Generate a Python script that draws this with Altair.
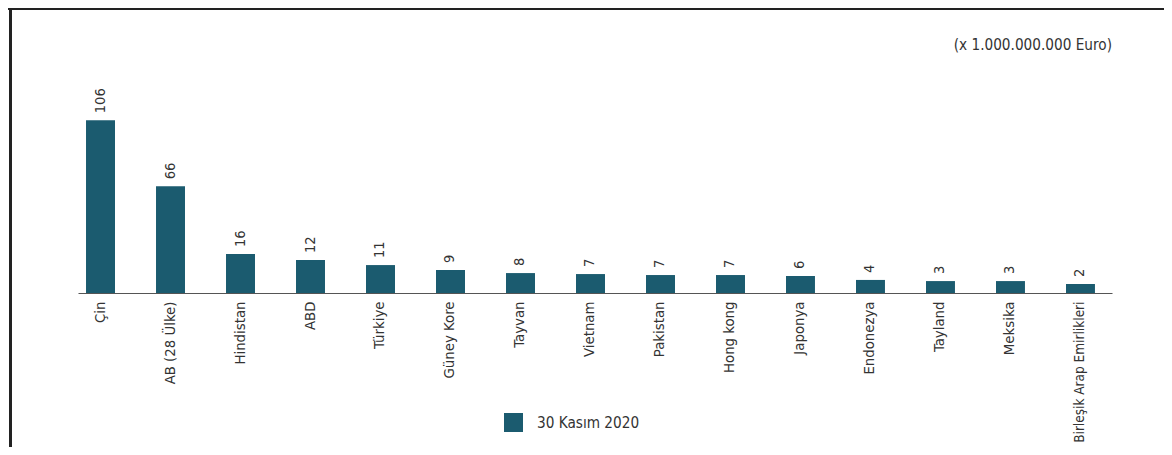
import altair as alt
import pandas as pd

countries = ["Çin", "AB (28 Ülke)", "Hindistan", "ABD", "Türkiye", "Güney Kore",
             "Tayvan", "Vietnam", "Pakistan", "Hong kong", "Japonya", "Endonezya",
             "Tayland", "Meksika", "Birleşik Arap Emirlikleri"]
# printed labels (x 1.000.000.000 Euro)
labels = [106, 66, 16, 12, 11, 9, 8, 7, 7, 7, 6, 4, 3, 3, 2]
# bar lengths (same scale, Çin = 106)
bar_values = [105.8, 65.3, 23.9, 20.2, 17.1, 14.1, 12.2, 11.6, 11.0, 11.0,
              10.4, 8.0, 7.3, 7.3, 5.5]
series = "30 Kasım 2020"
unit_text = "(x 1.000.000.000 Euro)"

FONT = "DejaVu Sans Condensed, Liberation Sans Narrow, sans-serif"
BAR = "#1b5b6f"
TXT = "#333333"

df = pd.DataFrame({"ulke": countries, "deger": bar_values,
                   "etiket": [str(v) for v in labels], "seri": [series] * len(countries)})

W, H = 1034, 196

long_label = countries[-1]
x = alt.X("ulke:N", sort=countries, title=None,
          scale=alt.Scale(paddingInner=0.586, paddingOuter=0.179, align=0.32),
          axis=alt.Axis(labelAngle=-90, labelFont=FONT,
                        labelFontSize={"condition": {"test": f"datum.value === '{long_label}'",
                                                     "value": 13.5},
                                       "value": 14.8},
                        labelColor=TXT, ticks=False, labelPadding=8,
                        domainColor="#555555", domainWidth=1.2, labelLimit=300))
y = alt.Y("deger:Q", title=None, scale=alt.Scale(domain=[0, 120], nice=False),
          axis=None)

base = alt.Chart(df)

bars = base.mark_bar(color=BAR).encode(
    x=x, y=y,
    color=alt.Color("seri:N", scale=alt.Scale(domain=[series], range=[BAR]),
                    legend=alt.Legend(title=None, orient="none", legendX=426, legendY=316,
                                      symbolType="square", symbolSize=361,
                                      symbolStrokeWidth=0, symbolOpacity=1,
                                      labelFont=FONT, labelFontSize=15.2,
                                      labelColor=TXT, labelOffset=14))
)

vals = base.mark_text(angle=270, align="left", baseline="middle", dx=7,
                      font=FONT, fontSize=14.5, color=TXT).encode(
    x=alt.X("ulke:N", sort=countries), y="deger:Q", text="etiket:N")

unit = alt.Chart(pd.DataFrame({"t": [unit_text]})).mark_text(
    align="right", baseline="middle", font=FONT, fontSize=15.2, color=TXT).encode(
    text="t:N", x=alt.value(W), y=alt.value(-52))

frame_top = alt.Chart(pd.DataFrame({"a": [0]})).mark_rule(
    color="#222222", strokeWidth=3).encode(
    x=alt.value(-70), x2=alt.value(W + 52), y=alt.value(-88.5))
frame_left = alt.Chart(pd.DataFrame({"a": [0]})).mark_rule(
    color="#222222", strokeWidth=3).encode(
    x=alt.value(-67.5), y=alt.value(-89), y2=alt.value(H + 154))

chart = alt.layer(bars, vals, unit, frame_top, frame_left).properties(
    width=W, height=H,
    background="white",
    autosize=alt.AutoSizeParams(type="none"),
    padding={"left": 70, "top": 89, "right": 52, "bottom": 154},
).configure_view(stroke=None)

chart.save("out.html", embed_options={"renderer": "svg", "actions": False})
